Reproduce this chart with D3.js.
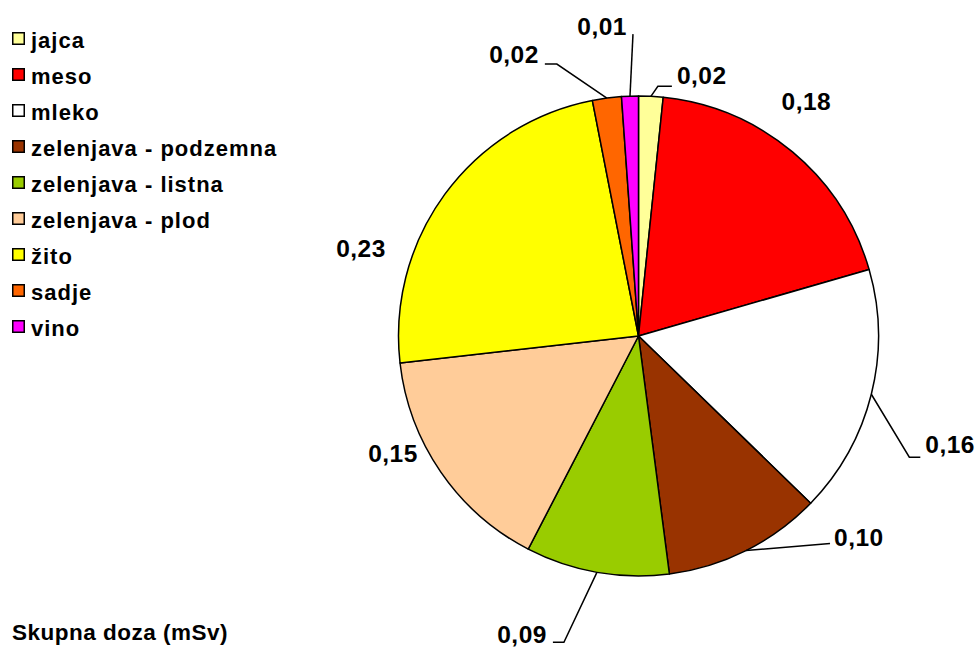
<!DOCTYPE html>
<html>
<head>
<meta charset="utf-8">
<script src="https://cdn.jsdelivr.net/npm/d3@7"></script>
<style>
  html, body { margin: 0; padding: 0; background: #fff; }
  svg { display: block; font-family: "Liberation Sans", Arial, sans-serif; font-weight: bold; }
</style>
</head>
<body>
<svg id="chart" width="978" height="647"></svg>
<script>
// ---- data ----
const categories = ["jajca", "meso", "mleko", "zelenjava - podzemna", "zelenjava - listna",
                    "zelenjava - plod", "žito", "sadje", "vino"];
const values = [0.016, 0.184, 0.163, 0.104, 0.094, 0.152, 0.231, 0.019, 0.011];
const colors = ["#FFFF99", "#FF0000", "#FFFFFF", "#993300", "#99CC00",
                "#FFCC99", "#FFFF00", "#FF6600", "#FF00FF"];
const title = "Skupna doza (mSv)";

// ---- layout ----
const cx = 638.5, cy = 336, R = 240;
const svg = d3.select("#chart");

const data = categories.map((c, i) => ({ name: c, value: values[i], color: colors[i] }));
const pie = d3.pie().value(d => d.value).sort(null);
const arcs = pie(data);
const arc = d3.arc().innerRadius(0).outerRadius(R);

const g = svg.append("g").attr("transform", `translate(${cx},${cy})`);
g.selectAll("path.slice").data(arcs).enter().append("path")
  .attr("class", "slice")
  .attr("d", arc)
  .attr("fill", d => d.data.color)
  .attr("stroke", "#000").attr("stroke-width", 1.5).attr("stroke-linejoin", "round");

// label layout relative to the slice's outer mid-point (leader path points, text offset)
const labelLayout = [
  { path: [[7, -10], [21, -10]], t: [26, -12], anchor: "start" },   // jajca
  { path: null, t: [-11, -42], anchor: "start" },                   // meso
  { path: [[38, 63], [49, 63]], t: [54, 59], anchor: "start" },     // mleko
  { path: [[84, -7]], t: [88, -5], anchor: "start" },               // podzemna
  { path: [[-33, 70], [-44, 70]], t: [-50, 71], anchor: "end" },     // listna
  { path: null, t: [-23, -10], anchor: "end" },                     // plod
  { path: null, t: [-59, 63], anchor: "end" },                      // žito
  { path: [[-50, -34], [-62, -34]], t: [-68, -35], anchor: "end" }, // sadje
  { path: [[3, -62]], t: [-3, -61], anchor: "end" }                 // vino
];

const fmt = v => d3.format(".2f")(v).replace(".", ",");

arcs.forEach((a, i) => {
  const mid = (a.startAngle + a.endAngle) / 2;
  const ax = cx + R * Math.sin(mid), ay = cy - R * Math.cos(mid);
  const L = labelLayout[i];
  if (L.path) {
    const pts = [[ax, ay]].concat(L.path.map(p => [ax + p[0], ay + p[1]]));
    svg.append("path")
      .attr("d", d3.line()(pts))
      .attr("fill", "none").attr("stroke", "#000").attr("stroke-width", 1.5);
  }
  svg.append("text")
    .attr("x", ax + L.t[0]).attr("y", ay + L.t[1])
    .attr("text-anchor", L.anchor)
    .attr("font-size", 24.5)
    .attr("letter-spacing", 0.5)
    .attr("fill", "#000")
    .text(fmt(values[i]));
});

// legend
const legend = svg.append("g").attr("transform", "translate(12,32)");
const rows = legend.selectAll("g").data(data).enter().append("g")
  .attr("transform", (d, i) => `translate(0,${i * 36})`);
rows.append("rect").attr("x", 0.75).attr("y", 0.75).attr("width", 11.5).attr("height", 11.5)
  .attr("fill", d => d.color).attr("stroke", "#000").attr("stroke-width", 1.5);
rows.append("text").attr("x", 19).attr("y", 15.5).attr("font-size", 22).attr("letter-spacing", 1)
  .attr("fill", "#000")
  .text(d => d.name);

// title
svg.append("text").attr("x", 12).attr("y", 640).attr("font-size", 22.5).attr("letter-spacing", 0.5)
  .attr("fill", "#000").text(title);
</script>
</body>
</html>
